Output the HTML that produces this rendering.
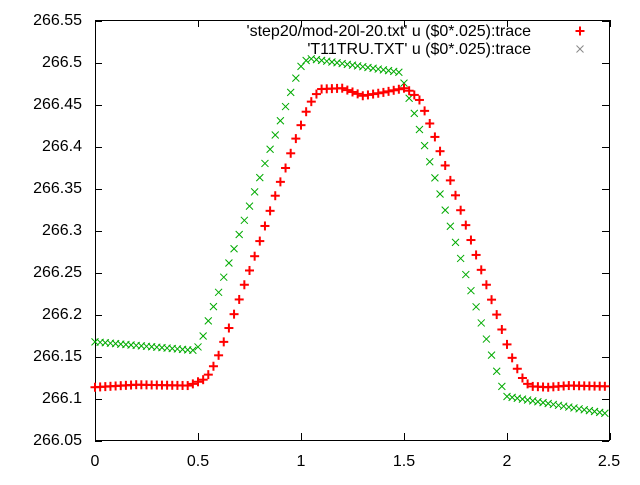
<!DOCTYPE html>
<html><head><style>body{margin:0;background:#fff}svg text{font-family:"Liberation Sans",sans-serif;font-size:16px;fill:#000}</style></head>
<body>
<svg id="s" width="640" height="480" xmlns="http://www.w3.org/2000/svg">
<rect x="95.5" y="20.5" width="514" height="420" fill="none" stroke="#000" stroke-width="1"/>
<g id="ticks" stroke="#000" stroke-width="1"></g>
<g text-anchor="end">
<text x="82" y="25">266.55</text><text x="82" y="67">266.5</text><text x="82" y="109">266.45</text>
<text x="82" y="151">266.4</text><text x="82" y="193">266.35</text><text x="82" y="235">266.3</text>
<text x="82" y="277">266.25</text><text x="82" y="319">266.2</text><text x="82" y="361">266.15</text>
<text x="82" y="403">266.1</text><text x="82" y="445">266.05</text>
</g>
<g text-anchor="middle">
<text x="95" y="466">0</text><text x="198" y="466">0.5</text><text x="301" y="466">1</text>
<text x="404" y="466">1.5</text><text x="507" y="466">2</text><text x="609" y="466">2.5</text>
</g>
<g text-anchor="end">
<text x="531" y="36">'step20/mod-20l-20.txt' u ($0*.025):trace</text>
<text x="531" y="54">'T11TRU.TXT' u ($0*.025):trace</text>
</g>
<g id="pts"></g>
</svg>
<script>
var ns="http://www.w3.org/2000/svg",t=document.getElementById("ticks"),p=document.getElementById("pts");
function X(v){return 95+v*206}function Y(v){return 441-(v-266.05)/0.05*42}
function ln(g,a,b,c,d,col,w){var l=document.createElementNS(ns,"line");l.setAttribute("x1",a);l.setAttribute("y1",b);l.setAttribute("x2",c);l.setAttribute("y2",d);if(col){l.setAttribute("stroke",col);l.setAttribute("stroke-width",w);}g.appendChild(l);}
for(var i=0;i<=10;i++){var y=Math.round(Y(266.05+i*0.05))+0.5;ln(t,95,y,102,y);ln(t,609,y,602,y);}
for(var i=0;i<=5;i++){var x=Math.round(X(i*0.5))+0.5;ln(t,x,440,x,433);ln(t,x,20,x,27);}
function interp(k,x){for(var i=0;i<k.length-1;i++){if(x<=k[i+1][0]){var a=k[i],b=k[i+1];return a[1]+(b[1]-a[1])*(x-a[0])/(b[0]-a[0]);}}return k[k.length-1][1];}
var R=[[0,266.114],[0.2,266.117],[0.45,266.116],[0.475,266.118],[0.525,266.123],[0.55,266.129],[0.575,266.139],[0.6,266.152],[0.625,266.168],[0.675,266.201],[0.725,266.236],[0.775,266.27],[0.825,266.306],[0.875,266.342],[0.925,266.375],[0.975,266.41],[1.0,266.426],[1.025,266.442],[1.05,266.454],[1.075,266.463],[1.1,266.469],[1.2,266.47],[1.3,266.461],[1.4,266.465],[1.5,266.47],[1.525,266.467],[1.55,266.462],[1.575,266.456],[1.6,266.443],[1.625,266.428],[1.65,266.412],[1.675,266.395],[1.7,266.378],[2.0,266.165],[2.025,266.149],[2.05,266.136],[2.075,266.125],[2.1,266.118],[2.125,266.115],[2.2,266.114],[2.3,266.116],[2.5,266.115]];
var G=[[0,266.168],[0.475,266.158],[0.5,266.162],[0.525,266.175],[0.55,266.193],[0.575,266.21],[0.6,266.227],[0.625,266.245],[0.975,266.482],[1.0,266.496],[1.025,266.503],[1.05,266.505],[1.475,266.489],[1.5,266.476],[1.525,266.458],[1.55,266.44],[1.95,266.133],[1.975,266.115],[2.0,266.103],[2.5,266.082]];
function plus(x,y){ln(p,x-4.5,y,x+4.5,y,"#f00",2);ln(p,x,y-4.5,x,y+4.5,"#f00",2);}
function cross(x,y,c){ln(p,x-3.5,y-3.5,x+3.5,y+3.5,c,1);ln(p,x-3.5,y+3.5,x+3.5,y-3.5,c,1);}
for(var i=0;i<100;i++){var v=i*0.025;cross(X(v),Y(interp(G,v)),"#0a0");}
for(var i=0;i<100;i++){var v=i*0.025;plus(X(v),Y(interp(R,v)));}
plus(580,31);cross(580,49,"#888");
</script>
</body></html>
